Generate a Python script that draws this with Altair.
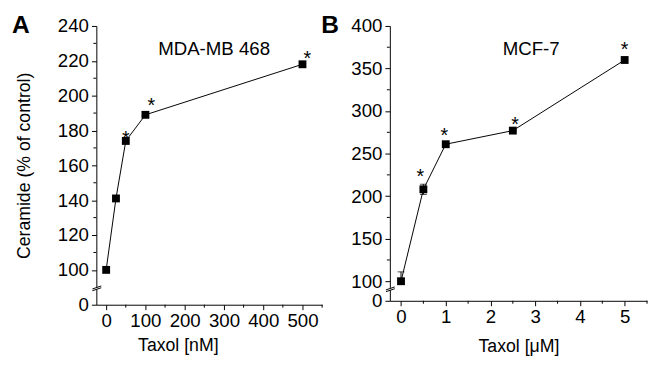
import altair as alt
import pandas as pd

FONT = "Liberation Sans"

# ---------------- Panel A: MDA-MB 468 ----------------
a_taxol = [0, 25, 50, 100, 500]
a_ceramide = [100, 141, 174, 189, 218]
a_star_taxol = [50, 115, 512]
a_star_ceramide = [178, 197, 224]
a_yticks = [80, 100, 120, 140, 160, 180, 200, 220, 240]   # 80 = broken-axis "0"
a_yminor = [110, 130, 150, 170, 190, 210, 230]
a_xticks = [0, 100, 200, 300, 400, 500]
a_xminor = [50, 150, 250, 350, 450, 550]
a_break = 89.4

# ---------------- Panel B: MCF-7 ----------------
b_taxol = [0, 0.5, 1, 2.5, 5]
b_ceramide = [100, 208, 261, 277, 360]
b_err_up = [11, 6, 0, 0, 0]
b_err_down = [0, 6, 0, 0, 0]
b_star_taxol = [0.43, 0.97, 2.55, 5.0]
b_star_ceramide = [228, 276, 289, 377]
b_yticks = [77, 100, 150, 200, 250, 300, 350, 400]        # 77 = broken-axis "0"
b_yminor = [125, 175, 225, 275, 325, 375]
b_xticks = [0, 1, 2, 3, 4, 5]
b_xminor = [0.5, 1.5, 2.5, 3.5, 4.5, 5.5]
b_break = 90.5


def panel(xs, ys, sx, sy, ydom, xdom, yticks, yminor, xticks, xminor, brk,
          ystep, xtitle, ytitle, label, label_pos, letter, letter_x, w, h,
          yt_pad, xt_pad, xt_x, err=None):
    yscale = alt.Scale(domain=ydom, nice=False, zero=False)
    xscale = alt.Scale(domain=xdom, nice=False, zero=False)
    zero_val = ydom[0]
    yaxis = alt.Axis(values=yticks, grid=False, tickSize=5, labelPadding=3, labelOverlap=False,
                     labelExpr=f"datum.value == {zero_val} ? '0' : datum.label",
                     title=ytitle, titlePadding=yt_pad)
    xaxis = alt.Axis(values=xticks, grid=False, tickSize=5, labelPadding=2, labelOverlap=False,
                     title=xtitle, titlePadding=xt_pad, labelFlush=False, titleX=xt_x,
                     titleAlign="center")

    def X(f):
        return alt.X(f, type="quantitative", scale=xscale, axis=xaxis)

    def Y(f):
        return alt.Y(f, type="quantitative", scale=yscale, axis=yaxis)

    df = pd.DataFrame({"x": xs, "y": ys})
    base = alt.Chart(df).encode(x=X("x"), y=Y("y"))
    line = base.mark_line(color="black", strokeWidth=1)
    pts = base.mark_point(shape="square", filled=True, size=64, color="black", opacity=1)

    stars = alt.Chart(pd.DataFrame({"x": sx, "y": sy})).mark_text(
        text="*", fontSize=20, font=FONT, baseline="alphabetic", dy=11, color="black"
    ).encode(x=X("x"), y=Y("y"))

    yminor_l = alt.Chart(pd.DataFrame({"y": yminor})).mark_rule(color="black", strokeWidth=1).encode(
        y=Y("y"), x=alt.value(0), x2=alt.value(-3))
    xminor_l = alt.Chart(pd.DataFrame({"x": xminor})).mark_rule(color="black", strokeWidth=1).encode(
        x=X("x"), y=alt.value(h), y2=alt.value(h + 3))

    # axis break: white gap + two slanted strokes
    gap = alt.Chart(pd.DataFrame({"y": [brk - 0.9 * ystep], "y2": [brk + 0.9 * ystep]})).mark_rule(
        color="white", strokeWidth=4).encode(y=Y("y"), y2="y2:Q", x=alt.value(0))
    brk_df = pd.DataFrame({"y": [brk - 2.4 * ystep, brk - 0.6 * ystep],
                           "y2": [brk + 0.6 * ystep, brk + 2.4 * ystep]})
    slash = alt.Chart(brk_df).mark_rule(color="black", strokeWidth=1).encode(
        y=Y("y"), y2="y2:Q", x=alt.value(-4), x2=alt.value(5))

    lab = alt.Chart(pd.DataFrame({"t": [label]})).mark_text(
        fontSize=19, font=FONT, color="black").encode(
        text="t:N", x=alt.value(label_pos[0]), y=alt.value(label_pos[1]))
    let = alt.Chart(pd.DataFrame({"t": [letter]})).mark_text(
        fontSize=25, font=FONT, fontWeight="bold", color="black", align="left",
        baseline="alphabetic").encode(
        text="t:N", x=alt.value(letter_x), y=alt.value(7))

    layers = [line, yminor_l, xminor_l, gap, slash]
    if err is not None:
        edf = pd.DataFrame({"x": xs, "y": [y - d for y, d in zip(ys, err[1])],
                            "y2": [y + u for y, u in zip(ys, err[0])]})
        eb = alt.Chart(edf).mark_errorbar(ticks=True, size=7, thickness=1, color="black").encode(
            x=X("x"), y=Y("y"), y2="y2:Q")
        layers.append(eb)
    layers += [pts, stars, lab, let]
    return alt.layer(*layers).properties(width=w, height=h)


a_chart = panel(a_taxol, a_ceramide, a_star_taxol, a_star_ceramide, [80, 240], [-25, 550],
                a_yticks, a_yminor, a_xticks, a_xminor, a_break, 1 / 1.775,
                "Taxol [nM]", "Ceramide (% of control)", "MDA-MB 468", (120, 24),
                "A", -86, 230, 284, 24, 7, 83)
b_chart = panel(b_taxol, b_ceramide, b_star_taxol, b_star_ceramide, [77, 400], [-0.25, 5.5],
                b_yticks, b_yminor, b_xticks, b_xminor, b_break, 1 / 0.867,
                "Taxol [μM]", None, "MCF-7", (144, 24),
                "B", -70, 262, 280, 24, 12, 131, err=(b_err_up, b_err_down))

chart = alt.hconcat(a_chart, b_chart, spacing=-2).properties(
    padding={"left": 4, "top": 2, "right": 0, "bottom": 0}
).configure_view(stroke=None).configure_axis(
    labelFont=FONT, titleFont=FONT, labelFontSize=19, titleFontSize=18,
    labelColor="black", titleColor="black", domainColor="black", tickColor="black",
    titleFontWeight="normal", domainWidth=1, tickWidth=1
)

chart.save("out.html", embed_options={"renderer": "svg", "actions": False})
